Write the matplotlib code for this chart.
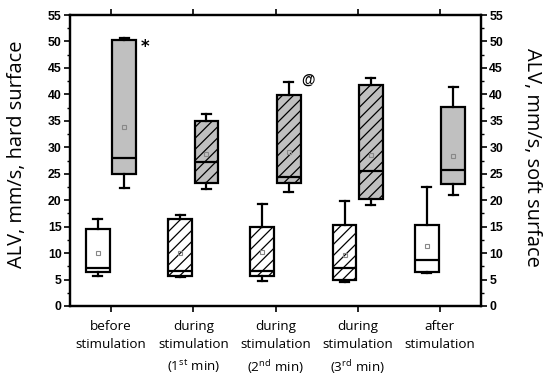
import matplotlib
matplotlib.use("Agg")
import matplotlib.pyplot as plt

plt.rcParams['mathtext.fontset'] = 'custom'
plt.rcParams['mathtext.rm'] = 'Open Sans'
plt.rcParams['mathtext.it'] = 'Open Sans'
plt.rcParams['hatch.linewidth'] = 0.9

# ---- data ----
categories = ["before\nstimulation",
              "during\nstimulation\n(1$^{\\mathrm{st}}$ min)",
              "during\nstimulation\n(2$^{\\mathrm{nd}}$ min)",
              "during\nstimulation\n(3$^{\\mathrm{rd}}$ min)",
              "after\nstimulation"]
hatched = [False, True, True, True, False]

# upper (gray) boxes
gray_whislo = [22.3, 22.1, 21.5, 19.1, 20.9]
gray_q1     = [25.0, 23.3, 23.3, 20.2, 23.1]
gray_med    = [28.0, 27.3, 24.4, 25.5, 25.7]
gray_q3     = [50.2, 34.9, 39.9, 41.7, 37.6]
gray_whishi = [50.7, 36.3, 42.3, 43.0, 41.3]
gray_mean   = [33.8, 28.7, 29.2, 28.5, 28.3]

# lower (white) boxes
white_whislo = [5.6, 5.5, 4.8, 4.6, 6.3]
white_q1     = [6.4, 5.6, 5.6, 4.9, 6.5]
white_med    = [7.2, 6.7, 6.7, 7.1, 8.6]
white_q3     = [14.5, 16.4, 14.9, 15.4, 15.3]
white_whishi = [16.4, 17.2, 19.3, 19.8, 22.4]
white_mean   = [10.1, 10.0, 10.3, 9.6, 11.3]

yticks = list(range(0, 56, 5))

fig = plt.figure(figsize=(5.5, 3.78), dpi=100)
ax = fig.add_axes([70/550, 1-306/378, (481-70)/550, (306-15)/378])

pos = list(range(1, len(categories) + 1))
off = 0.16
bw = 0.29

def stats(lo, q1, med, q3, hi, mean):
    return [dict(whislo=a, q1=b, med=c, q3=d, whishi=e, mean=f, fliers=[])
            for a, b, c, d, e, f in zip(lo, q1, med, q3, hi, mean)]

common = dict(widths=bw, showmeans=True, patch_artist=True,
              boxprops=dict(linewidth=1.6, edgecolor='black'),
              medianprops=dict(color='black', linewidth=1.6),
              whiskerprops=dict(color='black', linewidth=1.6),
              capprops=dict(color='black', linewidth=1.6),
              meanprops=dict(marker='s', markersize=3.2, markerfacecolor='none',
                             markeredgecolor='#888888', markeredgewidth=0.8),
              capwidths=0.11)

bg = ax.bxp(stats(gray_whislo, gray_q1, gray_med, gray_q3, gray_whishi, gray_mean),
            positions=[p + off for p in pos], **common)
bw_ = ax.bxp(stats(white_whislo, white_q1, white_med, white_q3, white_whishi, white_mean),
             positions=[p - off for p in pos], **common)
for i, b in enumerate(bg['boxes']):
    b.set_facecolor('#c0c0c0')
    if hatched[i]:
        b.set_hatch('///')
for i, b in enumerate(bw_['boxes']):
    b.set_facecolor('white')
    if hatched[i]:
        b.set_hatch('///')

ax.set_xlim(0.5, 5.5)
ax.set_ylim(0, 55)
ax.set_xticks(pos)
ax.set_xticklabels(categories, family='Open Sans', fontsize=9.7, linespacing=1.5)
ax.set_yticks(yticks)
ax.set_yticks([y + 2.5 for y in yticks[:-1]], minor=True)
for lab in ax.get_yticklabels():
    lab.set_fontweight('bold')
    lab.set_family('Liberation Sans')
    lab.set_fontsize(8.8)
ax.tick_params(axis='y', which='major', direction='out', length=4, width=1.2, pad=2)
ax.tick_params(axis='y', which='minor', direction='out', length=2, width=1.0)
ax.tick_params(axis='x', which='major', direction='out', length=4, width=1.2, pad=6,
               top=True)
for s in ax.spines.values():
    s.set_linewidth(1.6)

ax2 = ax.twinx()
ax2.set_ylim(0, 55)
ax2.set_yticks(yticks)
ax2.set_yticks([y + 2.5 for y in yticks[:-1]], minor=True)
for lab in ax2.get_yticklabels():
    lab.set_fontweight('bold')
    lab.set_family('Liberation Sans')
    lab.set_fontsize(8.8)
ax2.tick_params(axis='y', which='major', direction='out', length=4, width=1.2, pad=2)
ax2.tick_params(axis='y', which='minor', direction='out', length=2, width=1.0)
for s in ax2.spines.values():
    s.set_linewidth(1.6)

ax.text(1.41, 49.0, '*', fontsize=12, fontweight='bold', ha='center', va='center')
ax.text(3.39, 42.8, '@', fontsize=10, fontweight='bold', family='Liberation Sans',
        ha='center', va='center')

fig.text(17/550, 1-154/378, 'ALV, mm/s, hard surface', rotation=90, family='Open Sans',
         fontsize=14.4, ha='center', va='center')
fig.text(532/550, 1-157/378, 'ALV, mm/s, soft surface', rotation=270, family='Open Sans',
         fontsize=14.4, ha='center', va='center')

fig.savefig('out.png', dpi=100)
